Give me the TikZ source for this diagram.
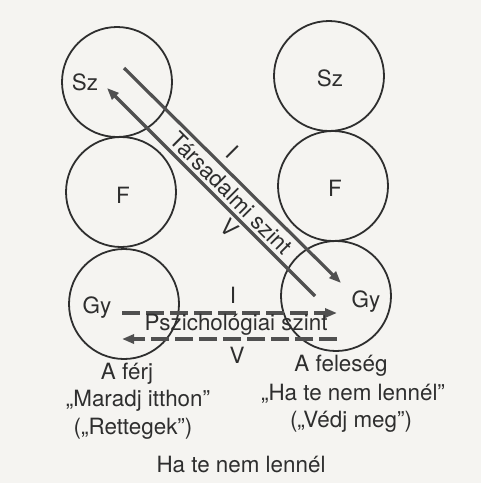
\documentclass[tikz,border=0pt]{standalone}
\usepackage{fontspec}
\setmainfont{TeX Gyre Heros}
\usetikzlibrary{arrows.meta,positioning}
\definecolor{ink}{HTML}{2E2E2E}
\definecolor{paper}{HTML}{F5F4F1}
\definecolor{bar}{HTML}{505050}

\begin{document}
\begin{tikzpicture}[x=0.5pt, y=-0.5pt,
    level/.style={circle, draw=ink, line width=0.9pt, minimum size=55pt, inner sep=0pt},
    tag/.style={text=ink, font=\fontsize{11.2}{13}\selectfont, inner sep=1pt},
    soc/.style={draw=bar, line width=1.6pt, -{Triangle[length=6pt, width=4.5pt]}},
    psy/.style={draw=bar, line width=1.6pt, dash pattern=on 9pt off 3pt, -{Triangle[length=6pt, width=4.5pt]}}
]
\fill[paper] (0,0) rectangle (481,483);

% The husband
\node[level] (hsz) at (117,82) {};
\node[level] (hf) at (121,192) {};
\node[level] (hgy) at (124,304) {};
\node[tag] (hszt) at (85,82) {Sz};
\node[tag] (hft) at (123,195) {F};
\node[tag] (hgyt) at (97,308) {Gy};

% The wife
\node[level] (wsz) at (329,76) {};
\node[level] (wf) at (333,186) {};
\node[level] (wgy) at (336,296) {};
\node[tag] (wszt) at (330,78) {Sz};
\node[tag] (wft) at (335,188) {F};
\node[tag] (wgyt) at (366,302) {Gy};

% Social level
\coordinate (socA) at (124,68);
\coordinate (socB) at (341,283);
\coordinate (socC) at (315,296);
\coordinate (socD) at (107,88);
\draw[soc] (socA) -- (socB);
\draw[soc] (socC) -- (socD);
\node[tag, rotate=-45] (soclbl) at (231,193) {Társadalmi szint};
\node[tag, rotate=-45] (socI) at (232,152) {I};
\node[tag, rotate=-45] (socV) at (230,228) {V};

% Psychological level
\coordinate (psyA) at (122,313);
\coordinate (psyB) at (337,313);
\coordinate (psyC) at (337,339);
\coordinate (psyD) at (122,339);
\draw[psy] (psyA) -- (psyB);
\draw[psy] (psyC) -- (psyD);
\node[tag] (psylbl) at (236,325) {Pszichológiai szint};
\node[tag] (psyI) at (233,295) {I};
\node[tag] (psyV) at (237,355) {V};

% Captions
\node[tag] (husband) at (127,374) {A férj};
\node[tag] (wife) at (341,366) {A feleség};
\node[tag] (hsay) at (138,401) {„Maradj itthon”};
\node[tag] (hmean) at (133,429) {(„Rettegek”)};
\node[tag] (wsay) at (353,394) {„Ha te nem lennél”};
\node[tag] (wmean) at (351,422) {(„Védj meg”)};
\node[tag] (game) at (241,464) {Ha te nem lennél};
\end{tikzpicture}
\end{document}
